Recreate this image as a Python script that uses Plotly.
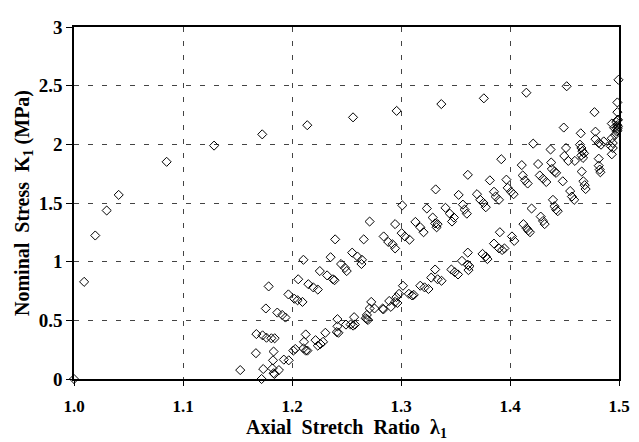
import plotly.graph_objects as go

# Virgin (first) loading curve
virgin_x = [1.000, 1.0093, 1.0195, 1.030, 1.041, 1.085, 1.1285, 1.1727, 1.214, 1.256,
            1.296, 1.337, 1.376, 1.415, 1.452, 1.4995]
virgin_y = [0.00, 0.828, 1.223, 1.436, 1.569, 1.851, 1.989, 2.085, 2.163, 2.23,
            2.285, 2.343, 2.392, 2.44, 2.495, 2.55]

# Reloading curves (upper band)
reload_x = [1.1673, 1.173, 1.1766, 1.1811, 1.1841, 1.176, 1.1786, 1.1865, 1.191, 1.194,
            1.1967, 1.2021, 1.2051, 1.2096, 1.2057, 1.2105, 1.215, 1.2195, 1.2237, 1.2255,
            1.2322, 1.2376, 1.239, 1.2354, 1.2396, 1.245, 1.2486, 1.2502, 1.2552, 1.26,
            1.2642, 1.2637, 1.2658, 1.2712, 1.2841, 1.2883, 1.2922, 1.2946, 1.3012, 1.3006,
            1.3036, 1.3078, 1.2946, 1.3132, 1.3177, 1.3207, 1.3237, 1.3291, 1.3313, 1.3336,
            1.3327, 1.3318, 1.3408, 1.3448, 1.3486, 1.3468, 1.3529, 1.3568, 1.3583, 1.3604,
            1.3613, 1.3697, 1.3727, 1.3757, 1.3778, 1.3853, 1.3868, 1.3899, 1.3815, 1.392,
            1.3967, 1.3979, 1.4009, 1.4033, 1.4108, 1.4117, 1.4138, 1.4162, 1.4213, 1.4258,
            1.4273, 1.4303, 1.4333, 1.4372, 1.4378, 1.4384, 1.4408, 1.4423, 1.4493, 1.4498,
            1.4514, 1.4535, 1.4595, 1.4642, 1.4649, 1.4655, 1.4664, 1.4679, 1.4655, 1.467,
            1.4775, 1.4784, 1.4784, 1.4814, 1.4835, 1.486]
reload_y = [0.383, 0.372, 0.352, 0.347, 0.347, 0.601, 0.789, 0.566, 0.546, 0.524,
            0.721, 0.684, 0.671, 0.657, 0.850, 1.016, 0.808, 0.781, 0.762, 0.92,
            0.883, 0.85, 0.842, 1.038, 1.19, 0.98, 0.947, 0.92, 1.077, 1.044,
            1.016, 0.98, 1.19, 1.342, 1.215, 1.168, 1.148, 1.113, 1.48, 1.243,
            1.215, 1.187, 1.32, 1.339, 1.293, 1.251, 1.453, 1.376, 1.326, 1.32,
            1.293, 1.616, 1.459, 1.409, 1.376, 1.342, 1.569, 1.486, 1.444, 1.409,
            1.74, 1.575, 1.527, 1.5, 1.464, 1.596, 1.555, 1.527, 1.693, 1.873,
            1.699, 1.629, 1.596, 1.575, 1.823, 1.735, 1.693, 1.666, 2.006, 1.832,
            1.735, 1.707, 1.679, 1.956, 1.845, 1.79, 1.768, 1.757, 2.143, 1.901,
            1.969, 1.859, 1.859, 1.997, 2.094, 1.969, 1.942, 1.923, 1.906, 1.884,
            2.274, 2.108, 2.044, 2.011, 1.997, 2.025]

# Points at the maximum stretch
peak_x = [1.4985, 1.4985, 1.4985, 1.4985, 1.4985, 1.498, 1.4934, 1.4964, 1.4934, 1.4943,
          1.4943, 1.4934, 1.4925, 1.4955, 1.499, 1.4975, 1.499, 1.4985]
peak_y = [2.357, 2.274, 2.205, 2.163, 2.135, 2.108, 2.177, 2.08, 2.052, 2.011,
          1.969, 1.915, 1.983, 2.141, 2.21, 2.19, 2.15, 2.12]

# Unloading curves (lower band)
unload_x = [1.1525, 1.1669, 1.1721, 1.1736, 1.1831, 1.1826, 1.182, 1.1831, 1.184, 1.188,
            1.1925, 1.197, 1.2012, 1.203, 1.211, 1.2126, 1.2105, 1.2126, 1.2141, 1.2216,
            1.2237, 1.2261, 1.2285, 1.2306, 1.2417, 1.2417, 1.2411, 1.2426, 1.2495, 1.257,
            1.2538, 1.2561, 1.2577, 1.2687, 1.2676, 1.2687, 1.2698, 1.2727, 1.2712, 1.2757,
            1.2832, 1.2838, 1.2892, 1.2946, 1.2967, 1.2907, 1.3018, 1.2982, 1.2958, 1.3072,
            1.3102, 1.3117, 1.3177, 1.3216, 1.3252, 1.3277, 1.3336, 1.3372, 1.3313, 1.3462,
            1.3493, 1.3523, 1.3559, 1.3613, 1.3628, 1.3619, 1.3613, 1.3748, 1.3778, 1.3793,
            1.3853, 1.3899, 1.3928, 1.3949, 1.3907, 1.4018, 1.4039, 1.4123, 1.4153, 1.4168,
            1.4183, 1.4198, 1.4282, 1.4303, 1.4318, 1.4394, 1.4408, 1.4423, 1.4438, 1.4484,
            1.4552, 1.4568, 1.4589, 1.4658, 1.4673, 1.4685, 1.4694, 1.4814, 1.4814, 1.4823,
            1.4829]
unload_y = [0.076, 0.22, 0.0, 0.085, 0.234, 0.159, 0.09, 0.049, 0.043, 0.076,
            0.165, 0.159, 0.242, 0.256, 0.317, 0.38, 0.261, 0.242, 0.242, 0.331,
            0.284, 0.298, 0.317, 0.394, 0.51, 0.449, 0.40, 0.394, 0.464, 0.527,
            0.464, 0.455, 0.464, 0.546, 0.518, 0.51, 0.503, 0.657, 0.601, 0.601,
            0.601, 0.593, 0.665, 0.657, 0.648, 0.615, 0.795, 0.726, 0.698, 0.726,
            0.712, 0.717, 0.795, 0.781, 0.767, 0.864, 0.85, 0.837, 0.933, 0.933,
            0.911, 0.891, 1.007, 0.974, 0.961, 0.928, 1.077, 1.066, 1.044, 1.022,
            1.154, 1.113, 1.099, 1.113, 1.251, 1.215, 1.177, 1.32, 1.284, 1.265,
            1.251, 1.453, 1.384, 1.347, 1.32, 1.527, 1.472, 1.444, 1.43, 1.685,
            1.602, 1.555, 1.527, 1.768, 1.685, 1.652, 1.619, 1.878, 1.818, 1.785,
            1.762]

x_ticks = [1.0, 1.1, 1.2, 1.3, 1.4, 1.5]
x_tick_labels = ["1.0", "1.1", "1.2", "1.3", "1.4", "1.5"]
y_ticks = [0, 0.5, 1, 1.5, 2, 2.5, 3]
y_tick_labels = ["0", "0.5", "1", "1.5", "2", "2.5", "3"]

marker = dict(symbol="diamond-open", size=7, color="black", line=dict(width=1, color="black"))

fig = go.Figure()
for xs, ys in [(virgin_x, virgin_y), (reload_x, reload_y), (peak_x, peak_y), (unload_x, unload_y)]:
    fig.add_trace(go.Scatter(x=xs, y=ys, mode="markers", marker=marker,
                             showlegend=False, cliponaxis=False, hoverinfo="x+y"))

fam = "Liberation Serif, Times New Roman, serif"
titlefont = dict(family=fam, size=20, color="black")

fig.update_layout(
    width=631, height=434,
    margin=dict(l=66, r=10, t=9, b=63),
    paper_bgcolor="white", plot_bgcolor="white",
    font=dict(family=fam, size=16, color="black"),
    xaxis=dict(
        range=[1.0, 1.5], tickvals=x_ticks,
        ticktext=["<b>%s</b>" % t for t in x_tick_labels],
        showline=True, linecolor="black", linewidth=1.5, mirror=True,
        ticks="outside", ticklen=5, tickcolor="black", tickwidth=1,
        ticklabelstandoff=6,
        showgrid=True, gridcolor="#444", gridwidth=1, griddash="5px,9px",
        zeroline=False, tickfont=dict(family=fam, size=17, color="black"),
        title=dict(text="<b>Axial\u00a0 Stretch\u00a0 Ratio\u00a0 λ<sub>1</sub></b>",
                   font=titlefont, standoff=2),
    ),
    yaxis=dict(
        range=[0, 3], tickvals=y_ticks,
        ticktext=["<b>%s</b>" % t for t in y_tick_labels],
        showline=True, linecolor="black", linewidth=1.5, mirror=True,
        ticks="outside", ticklen=6, tickcolor="black", tickwidth=1,
        ticklabelstandoff=0,
        showgrid=True, gridcolor="#444", gridwidth=1, griddash="5px,9px",
        zeroline=False, tickfont=dict(family=fam, size=19, color="black"),
        title=dict(text="<b>Nominal\u00a0 Stress\u00a0 K<sub>1</sub> (MPa)</b>",
                   font=titlefont, standoff=4),
    ),
)

fig.write_html("out.html")
